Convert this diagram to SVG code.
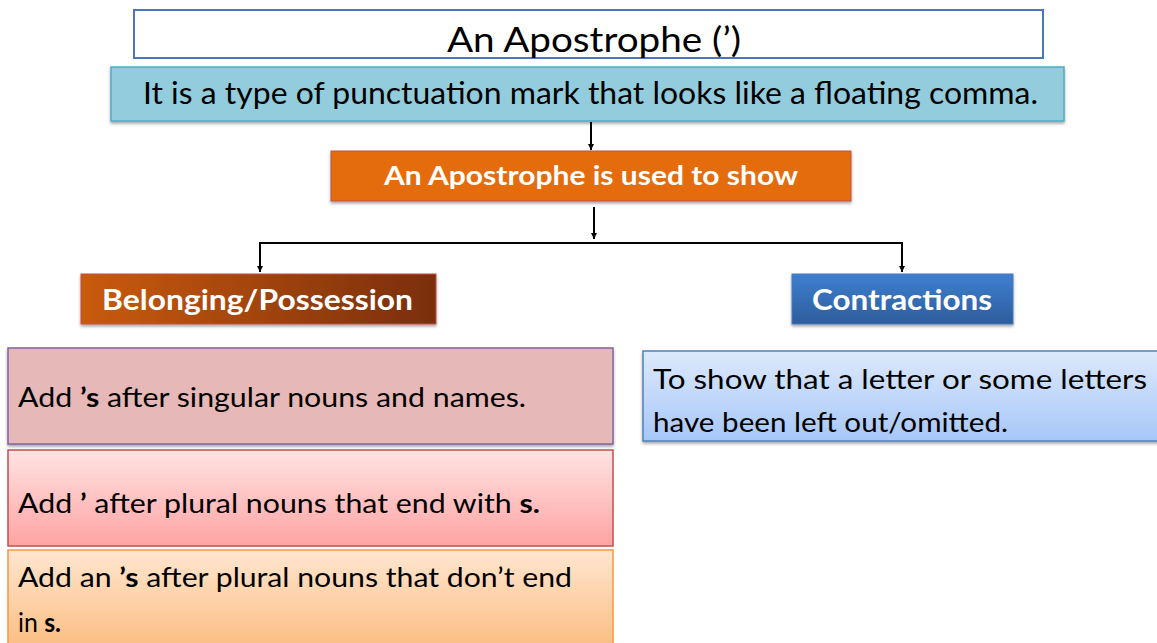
<svg xmlns="http://www.w3.org/2000/svg" width="1157" height="643" viewBox="0 0 1157 643">
<style>
text{font-family:"Lato","Noto Sans","Liberation Sans",sans-serif;fill:#000}
.w{fill:#fff;font-weight:bold}
.b{font-weight:bold}
.conn{stroke:#000;stroke-width:2;fill:none}
</style>
<defs>
<marker id="ah" viewBox="0 0 10 10" refX="10" refY="5" markerWidth="6" markerHeight="6" orient="auto" markerUnits="userSpaceOnUse"><path d="M0,0 L10,5 L0,10 z" fill="#000"/></marker>
<filter id="sh" x="-5%" y="-10%" width="110%" height="130%"><feDropShadow dx="0" dy="2" stdDeviation="1.5" flood-color="#000" flood-opacity="0.35"/></filter>
<linearGradient id="gBel" x1="0" y1="0" x2="1" y2="0"><stop offset="0" stop-color="#c95b0c"/><stop offset="1" stop-color="#7a2e0c"/></linearGradient>
<linearGradient id="gCon" x1="0" y1="0" x2="0" y2="1"><stop offset="0" stop-color="#3f7fd0"/><stop offset="1" stop-color="#2d5d9c"/></linearGradient>
<linearGradient id="gP2" x1="0" y1="0" x2="0" y2="1"><stop offset="0" stop-color="#ffe3e3"/><stop offset="1" stop-color="#ffa3a3"/></linearGradient>
<linearGradient id="gP3" x1="0" y1="0" x2="0" y2="1"><stop offset="0" stop-color="#ffe6d0"/><stop offset="1" stop-color="#fbbd80"/></linearGradient>
<linearGradient id="gR" x1="0" y1="0" x2="0" y2="1"><stop offset="0" stop-color="#dde9fc"/><stop offset="1" stop-color="#a7c7f8"/></linearGradient>
</defs>

<g id="title">
<rect x="134" y="10" width="909" height="48" fill="#fff" stroke="#4a76c0" stroke-width="2"/>
<text x="594" y="52" font-size="34" text-anchor="middle" textLength="294" lengthAdjust="spacingAndGlyphs">An Apostrophe (’)</text>
</g>

<g id="definition">
<rect x="111" y="67" width="953" height="54" fill="#93cddd" stroke="#4badc6" stroke-width="1.5" filter="url(#sh)"/>
<text x="143" y="104" font-size="30" textLength="895" lengthAdjust="spacingAndGlyphs">It is a type of punctuation mark that looks like a floating comma.</text>
</g>

<g id="used-to-show">
<rect x="331" y="151" width="520" height="50" fill="#e46c0b" stroke="#c0504d" stroke-width="1" filter="url(#sh)"/>
<text class="w" x="384" y="185" font-size="26" textLength="414" lengthAdjust="spacingAndGlyphs">An Apostrophe is used to show</text>
</g>

<g id="belonging">
<rect x="81" y="274" width="355" height="50" fill="url(#gBel)" stroke="#c0504d" stroke-width="1" filter="url(#sh)"/>
<text class="w" x="102" y="310" font-size="29" textLength="311" lengthAdjust="spacingAndGlyphs">Belonging/Possession</text>
</g>

<g id="contractions">
<rect x="792" y="274" width="221" height="50" fill="url(#gCon)" stroke="#4a76c0" stroke-width="1" filter="url(#sh)"/>
<text class="w" x="812" y="310" font-size="29" textLength="180" lengthAdjust="spacingAndGlyphs">Contractions</text>
</g>

<g id="rule-singular">
<rect x="8" y="348" width="605" height="96" fill="#e6b8b7" stroke="#8064a2" stroke-width="1.5" filter="url(#sh)"/>
<text x="18" y="407" font-size="27" textLength="508" lengthAdjust="spacingAndGlyphs">Add <tspan class="b">’s</tspan> after singular nouns and names.</text>
</g>

<g id="rule-plural-s">
<rect x="8" y="450" width="605" height="96" fill="url(#gP2)" stroke="#c0504d" stroke-width="1.5"/>
<text x="18" y="513" font-size="27" textLength="522" lengthAdjust="spacingAndGlyphs">Add <tspan class="b">’</tspan> after plural nouns that end with <tspan class="b">s.</tspan></text>
</g>

<g id="rule-plural-no-s">
<rect x="8" y="550" width="605" height="100" fill="url(#gP3)" stroke="#f79646" stroke-width="1.5"/>
<text x="18" y="587" font-size="27" textLength="554" lengthAdjust="spacingAndGlyphs">Add an <tspan class="b">’s</tspan> after plural nouns that don’t end</text>
<text x="18" y="632" font-size="27" textLength="43" lengthAdjust="spacingAndGlyphs">in <tspan class="b">s.</tspan></text>
</g>

<g id="contraction-rule">
<rect x="643" y="351" width="520" height="90" fill="url(#gR)" stroke="#4f81bd" stroke-width="1.5" filter="url(#sh)"/>
<text x="653" y="389" font-size="27" textLength="494" lengthAdjust="spacingAndGlyphs">To show that a letter or some letters</text>
<text x="653" y="432" font-size="27" textLength="355" lengthAdjust="spacingAndGlyphs">have been left out/omitted.</text>
</g>

<g id="connectors">
<line class="conn" x1="591" y1="122" x2="591" y2="150" marker-end="url(#ah)"/>
<line class="conn" x1="594" y1="207" x2="594" y2="239" marker-end="url(#ah)"/>
<line class="conn" x1="259" y1="243" x2="903" y2="243"/>
<line class="conn" x1="260" y1="243" x2="260" y2="272" marker-end="url(#ah)"/>
<line class="conn" x1="902" y1="243" x2="902" y2="272" marker-end="url(#ah)"/>
</g>
</svg>
